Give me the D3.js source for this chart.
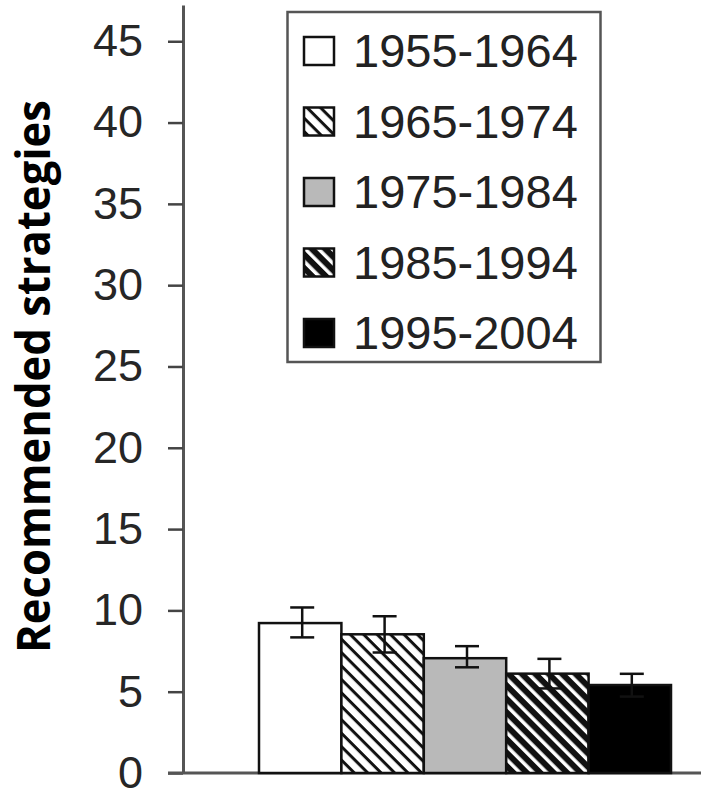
<!DOCTYPE html>
<html>
<head>
<meta charset="utf-8">
<script src="https://cdn.jsdelivr.net/npm/d3@7"></script>
<style>
html,body{margin:0;padding:0;background:#fff;}
svg{display:block;}
</style>
</head>
<body>
<script>
const categories = ["1955-1964","1965-1974","1975-1984","1985-1994","1995-2004"];
const values = [9.22, 8.53, 7.06, 6.11, 5.41];
const errHigh = [10.18, 9.64, 7.80, 7.02, 6.10];
const errLow = [8.34, 7.41, 6.50, 5.20, 4.70];
const yTicks = [0,5,10,15,20,25,30,35,40,45];
const yLabel = "Recommended strategies";
const fills = ["#ffffff","url(#hatchLight)","#b9b9b9","url(#hatchDark)","#000000"];

const W = 701, H = 790;
const svg = d3.select("body").append("svg").attr("width", W).attr("height", H);

const defs = svg.append("defs");
function hatch(id, sw) {
  const p = defs.append("pattern").attr("id", id).attr("patternUnits","userSpaceOnUse")
    .attr("width", 9.5).attr("height", 9.5).attr("patternTransform","rotate(45)");
  p.append("rect").attr("width",9.5).attr("height",9.5).attr("fill","#fff");
  p.append("rect").attr("x",0).attr("y",0).attr("width",9.5).attr("height",sw).attr("fill","#111");
}
hatch("hatchLight", 3);
hatch("hatchDark", 6);

const y = d3.scaleLinear().domain([0, 47.23]).range([773, 5]);
const x = d3.scaleBand().domain(categories).range([259, 671]).paddingInner(0).paddingOuter(0);

// y axis
const yAxis = svg.append("g").attr("transform","translate(183,0)")
  .call(d3.axisLeft(y).tickValues(yTicks).tickSize(15).tickPadding(25).tickSizeOuter(0));
yAxis.select(".domain").attr("stroke","#555").attr("stroke-width",3);
yAxis.selectAll(".tick line").attr("stroke","#444").attr("stroke-width",2.5);
yAxis.selectAll(".tick text").attr("fill","#262626")
  .style("font-family","'Liberation Sans', Arial, sans-serif").style("font-size","45px");

// x axis line
svg.append("line").attr("x1",168).attr("x2",701).attr("y1",y(0)).attr("y2",y(0))
  .attr("stroke","#555").attr("stroke-width",3);

// bars
svg.append("g").selectAll("rect").data(categories).join("rect")
  .attr("x", d => x(d))
  .attr("y", (d,i) => y(values[i]))
  .attr("width", x.bandwidth())
  .attr("height", (d,i) => y(0) - y(values[i]))
  .attr("fill", (d,i) => fills[i])
  .attr("stroke","#111").attr("stroke-width",2.5);

// error bars
const eg = svg.append("g").attr("stroke","#111").attr("stroke-width",2.5);
categories.forEach((c,i) => {
  const cx = x(c) + x.bandwidth()/2 + 2;
  eg.append("line").attr("x1",cx).attr("x2",cx).attr("y1",y(errHigh[i])).attr("y2",y(errLow[i]));
  eg.append("line").attr("x1",cx-12).attr("x2",cx+12).attr("y1",y(errHigh[i])).attr("y2",y(errHigh[i]));
  eg.append("line").attr("x1",cx-12).attr("x2",cx+12).attr("y1",y(errLow[i])).attr("y2",y(errLow[i]));
});

// legend
const lg = svg.append("g");
lg.append("rect").attr("x",287.5).attr("y",12).attr("width",313).attr("height",350)
  .attr("fill","#fff").attr("stroke","#555").attr("stroke-width",2.5);
categories.forEach((c,i) => {
  const cy = 51 + i*70.5;
  lg.append("rect").attr("x",304).attr("y",cy-14).attr("width",30).attr("height",28)
    .attr("fill",fills[i]).attr("stroke","#111").attr("stroke-width",2.5);
  lg.append("text").attr("x",353).attr("y",cy+16).text(c)
    .attr("fill","#222")
    .style("font-family","'Liberation Sans', Arial, sans-serif").style("font-size","47px");
});

// y label
svg.append("text").attr("transform","translate(50,376.5) rotate(-90)")
  .attr("text-anchor","middle")
  .attr("textLength",553).attr("lengthAdjust","spacingAndGlyphs")
  .style("font-family","'Open Sans', sans-serif").style("font-weight","700").style("font-size","46px")
  .attr("fill","#000").text(yLabel);
</script>
</body>
</html>
